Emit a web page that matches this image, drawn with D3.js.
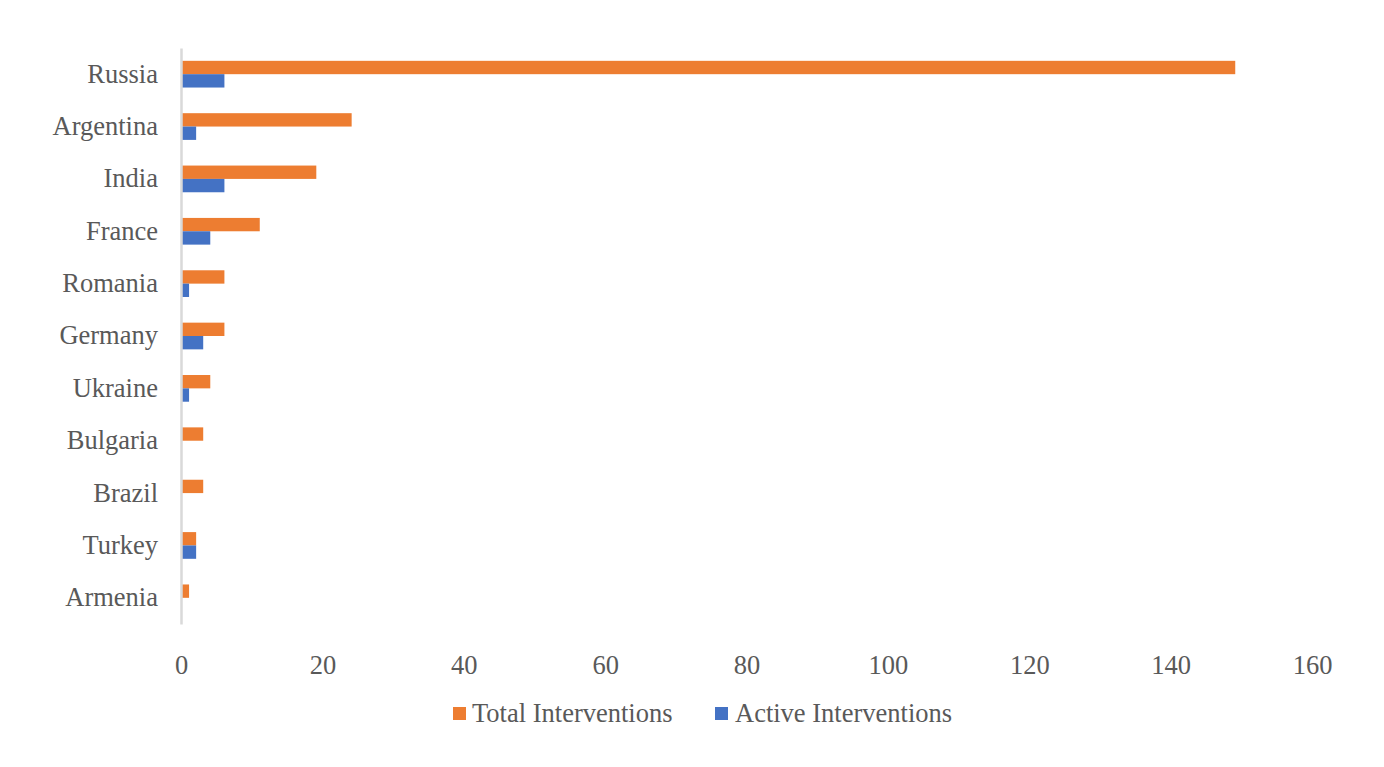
<!DOCTYPE html>
<html>
<head>
<meta charset="utf-8">
<script src="https://cdn.jsdelivr.net/npm/d3@7"></script>
<style>
  body { margin: 0; background: #fff; }
  svg text { font-family: "Liberation Serif", "Times New Roman", serif; fill: #595959; }
</style>
</head>
<body>
<div id="chart"></div>
<script>
const countries = ['Russia', 'Argentina', 'India', 'France', 'Romania', 'Germany', 'Ukraine', 'Bulgaria', 'Brazil', 'Turkey', 'Armenia']
const totalInterventions = [149, 24, 19, 11, 6, 6, 4, 3, 3, 2, 1]
const activeInterventions = [6, 2, 6, 4, 1, 3, 1, 0, 0, 2, 0]
const seriesNames = ['Total Interventions', 'Active Interventions']
const xTicks = [0, 20, 40, 60, 80, 100, 120, 140, 160]

const width = 1384
const height = 767
const margin = { top: 48, right: 72, bottom: 143, left: 181 }
const colors = ['#ed7d31', '#4472c4']
const fontFamily = '"Liberation Serif", "Times New Roman", serif'
const fontSize = 26.5

const rows = countries.map((c, i) => ({
  name: c,
  values: [totalInterventions[i], activeInterventions[i]]
}))

const svg = d3.select('#chart')
  .append('svg')
  .attr('width', width)
  .attr('height', height)
  .attr('viewBox', [0, 0, width, height])
  .attr('font-family', fontFamily)

const xScale = d3.scaleLinear()
  .domain([0, 160])
  .range([margin.left, width - margin.right])

const yScale = d3.scaleBand()
  .domain(countries)
  .range([margin.top, height - margin.bottom])
  .paddingInner(0.49)
  .paddingOuter(0.245)

const ySub = d3.scaleBand()
  .domain(seriesNames)
  .range([0, yScale.bandwidth()])

// bars
svg.append('g')
  .selectAll('g')
  .data(rows)
  .join('g')
  .attr('transform', d => `translate(0,${yScale(d.name)})`)
  .selectAll('rect')
  .data(d => d.values.map((v, i) => ({ key: seriesNames[i], value: v, i })))
  .join('rect')
  .attr('x', xScale(0) + 1)
  .attr('y', d => ySub(d.key))
  .attr('width', d => Math.max(0, xScale(d.value) - xScale(0)))
  .attr('height', ySub.bandwidth())
  .attr('fill', d => colors[d.i])

// vertical axis (category labels)
const yAxis = g => g
  .attr('transform', `translate(${xScale(0)},0)`)
  .call(d3.axisLeft(yScale).tickSize(0).tickPadding(23))
  .attr('font-family', fontFamily)
  .call(g => g.select('.domain')
    .attr('stroke', '#d9d9d9')
    .attr('stroke-width', 2.5))
  .call(g => g.selectAll('text')
    .attr('font-family', fontFamily)
    .attr('font-size', fontSize)
    .attr('fill', '#595959'))

svg.append('g').call(yAxis)

// horizontal axis labels only
const xAxis = g => g
  .attr('transform', `translate(0,${height - margin.bottom})`)
  .call(d3.axisBottom(xScale).tickValues(xTicks).tickSize(0).tickPadding(31))
  .attr('font-family', fontFamily)
  .call(g => g.select('.domain').remove())
  .call(g => g.selectAll('text')
    .attr('font-family', fontFamily)
    .attr('font-size', fontSize)
    .attr('fill', '#595959'))

svg.append('g').call(xAxis)

// legend
const legendX = [453, 715]
seriesNames.forEach((name, i) => {
  const item = svg.append('g').attr('transform', `translate(${legendX[i]},707)`)
  item.append('rect')
    .attr('width', 13)
    .attr('height', 13)
    .attr('fill', colors[i])
  item.append('text')
    .attr('x', i === 0 ? 19 : 20)
    .attr('y', 15)
    .attr('font-family', fontFamily)
    .attr('font-size', fontSize)
    .text(name)
})
</script>
</body>
</html>
